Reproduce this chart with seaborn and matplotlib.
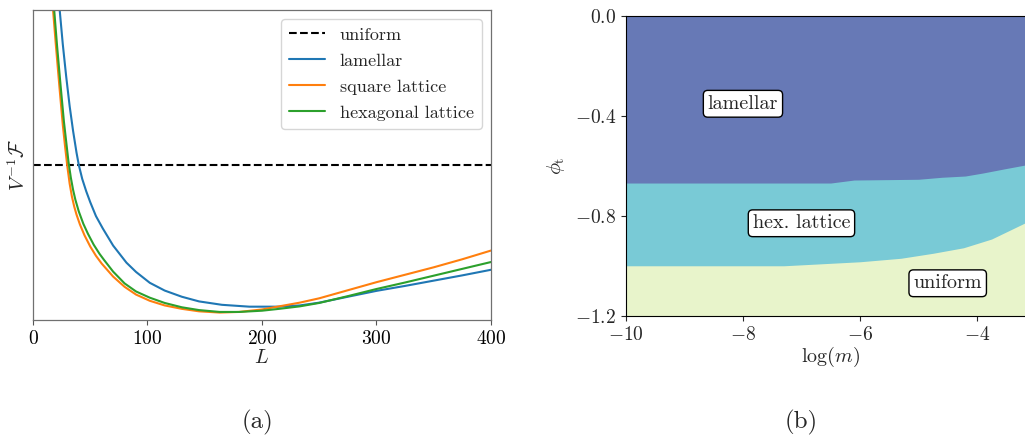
import numpy as np
import pandas as pd
import matplotlib
matplotlib.use("Agg")
import matplotlib.pyplot as plt
import seaborn as sns

# ---------------- data: panel (a) ----------------
uniform_level = 50.0

L_lam = [20, 23.3, 26, 29, 32, 35, 38, 40, 43, 46.5, 50, 55, 61, 70, 81.6, 90, 102, 115, 130, 145,
         165, 189, 215, 233, 250, 275, 300, 325, 350, 375, 400]
F_lam = [117, 100, 89, 78.5, 69, 61, 54, 50, 45.5, 41.5, 38, 33.5, 29.5, 24, 18.5, 15.5, 12, 9.5, 7.5, 6.0,
         4.9, 4.3, 4.3, 4.7, 5.6, 7.5, 9.4, 11.0, 12.7, 14.4, 16.2]

L_sq = [15, 17.5, 20, 23, 26, 28, 30, 32, 34, 36, 38, 41, 45, 50, 55, 60, 70, 80, 90, 102, 115, 130,
        145, 163, 180, 200, 215, 233, 250, 275, 300, 325, 350, 375, 400]
F_sq = [113, 100, 88.5, 75.5, 63, 56, 49.5, 44, 39.8, 36.6, 34, 30.8, 27.3, 23.7, 20.7, 18.2, 14.0, 10.7, 8.2, 6.2, 4.7, 3.6,
        2.8, 2.4, 2.6, 3.4, 4.4, 5.6, 7.0, 9.6, 12.2, 14.6, 17.0, 19.6, 22.4]

L_hex = [16, 18.5, 21, 24, 27, 29, 31, 33, 35, 37, 40, 44, 48, 53, 58, 62, 70, 80, 90, 102, 115, 130,
         145, 163, 180, 200, 215, 233, 250, 275, 300, 325, 350, 375, 400]
F_hex = [114, 100, 88.5, 76, 64, 57.5, 51, 46, 42, 38.8, 35, 31, 27.8, 24.3, 21.4, 19.4, 15.6, 11.8, 9.2, 7.2, 5.5, 4.1,
         3.2, 2.6, 2.6, 3.0, 3.6, 4.4, 5.5, 7.7, 10.0, 12.1, 14.3, 16.5, 18.7]

series_names = ["lamellar", "square lattice", "hexagonal lattice"]
series_colors = ["#1f77b4", "#ff7f0e", "#2ca02c"]

# ---------------- data: panel (b) ----------------
logm_upper = [-10, -6.5, -6.1, -5.0, -4.6, -4.2, -3.9, -3.5, -3.2, -3.0]
phi_upper = [-0.668, -0.668, -0.656, -0.653, -0.645, -0.640, -0.628, -0.610, -0.597, -0.588]
logm_lower = [-10, -7.3, -6.0, -5.3, -4.75, -4.23, -3.75, -3.2, -3.0]
phi_lower = [-0.999, -0.999, -0.983, -0.969, -0.949, -0.927, -0.892, -0.830, -0.805]

phase_labels = ["lamellar", "hex. lattice", "uniform"]
label_logm = [-8.0, -7.0, -4.5]
label_phi = [-0.351, -0.829, -1.069]
phase_colors = ["#6779b6", "#79cad6", "#e8f4cb"]

# ---------------- style ----------------
sns.set_style("ticks")
plt.rcParams["font.family"] = ["serif"]
plt.rcParams["font.serif"] = ["cmr10", "DejaVu Serif"]
plt.rcParams["mathtext.fontset"] = "cm"
plt.rcParams["axes.formatter.use_mathtext"] = True
plt.rcParams["axes.unicode_minus"] = True

fig = plt.figure(figsize=(10.25, 4.38), dpi=100)

# ---------------- panel (a) ----------------
ax1 = fig.add_axes([0.0322, 0.2694, 0.4468, 0.7078])
ax1.axhline(uniform_level, color="black", ls="--", lw=1.5, label="uniform")
frames = []
for name, Ls, Fs in zip(series_names, [L_lam, L_sq, L_hex], [F_lam, F_sq, F_hex]):
    frames.append(pd.DataFrame({"L": Ls, "F": Fs, "phase": name}))
df = pd.concat(frames, ignore_index=True)
sns.lineplot(data=df, x="L", y="F", hue="phase", palette=dict(zip(series_names, series_colors)),
             lw=1.5, ax=ax1, sort=False, estimator=None)
ax1.set_xlim(0, 400)
ax1.set_ylim(0, 100)
ax1.set_yticks([])
ax1.set_xticks([0, 100, 200, 300, 400])
ax1.tick_params(axis="x", labelsize=14, length=3.5, width=0.8, colors="#555555", labelcolor="black")
for s in ax1.spines.values():
    s.set_visible(True)
    s.set_color("#707070")
    s.set_linewidth(0.9)
ax1.set_xlabel(r"$L$", fontsize=14.5, labelpad=1)
ax1.set_ylabel(r"$V^{-1}\mathcal{F}$", fontsize=14.5, labelpad=3)
handles, labels = ax1.get_legend_handles_labels()
leg = ax1.legend(handles, labels, loc="upper right", fontsize=13, frameon=True,
                 handlelength=2.0, borderpad=0.45, labelspacing=0.57, handletextpad=0.8)
leg.get_frame().set_edgecolor("#cccccc")
fig.text(0.2517, 0.035, "(a)", fontsize=18, ha="center", va="center")

# ---------------- panel (b) ----------------
ax2 = fig.add_axes([0.6107, 0.2785, 0.3995, 0.6849])
x_top = [-10, -3.0]
ax2.fill_between(x_top, [0.0, 0.0], [-1.2, -1.2], color=phase_colors[0], lw=0)
ax2.fill_between(logm_upper, phi_upper, -1.2, color=phase_colors[1], lw=0)
ax2.fill_between(logm_lower, phi_lower, -1.2, color=phase_colors[2], lw=0)
for txt, xm, yp in zip(phase_labels, label_logm, label_phi):
    ax2.text(xm, yp, txt, fontsize=14.5, ha="center", va="center",
             bbox=dict(boxstyle="round,pad=0.22", fc="white", ec="black", lw=1.0))
ax2.set_xlim(-10, -3.0)
ax2.set_ylim(-1.2, 0.0)
ax2.set_xticks([-10, -8, -6, -4])
ax2.set_yticks([0.0, -0.4, -0.8, -1.2])
ax2.set_yticklabels([r"$0.0$", r"$-0.4$", r"$-0.8$", r"$-1.2$"])
ax2.tick_params(labelsize=14, length=3.5, width=0.8)
for s in ax2.spines.values():
    s.set_visible(True)
    s.set_color("black")
    s.set_linewidth(0.8)
ax2.set_xlabel(r"$\log(m)$", fontsize=14.5, labelpad=1)
ax2.set_ylabel(r"$\phi_{\rm t}$", fontsize=14.5, labelpad=6)
fig.text(0.782, 0.035, "(b)", fontsize=18, ha="center", va="center")

fig.savefig("out.png", dpi=100)
